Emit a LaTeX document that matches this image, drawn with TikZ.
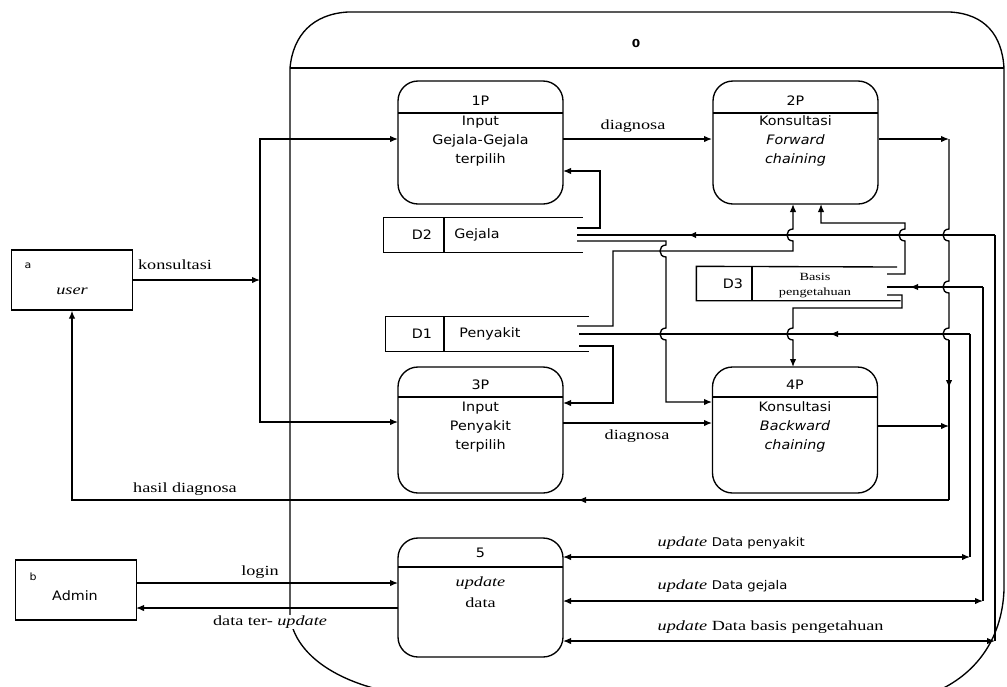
\documentclass[tikz,border=0pt]{standalone}
\usepackage{fontspec}
\setmainfont{Liberation Serif}
\newfontfamily\sff[FakeStretch=1.1]{DejaVu Sans}
\newfontfamily\srf[FakeStretch=1.3]{Liberation Serif}
\usetikzlibrary{arrows.meta,decorations.markings}
\newcommand{\hopdn}[2]{-- (#1,#2-6) .. controls (#1-8,#2-6) and (#1-8,#2+6) .. (#1,#2+6)}
\newcommand{\hopup}[2]{-- (#1,#2+6) .. controls (#1-8,#2+6) and (#1-8,#2-6) .. (#1,#2-6)}
\begin{document}
\begin{tikzpicture}[x=1pt,y=-1pt,line width=1.35pt,
  arr/.style={-{Latex[length=8pt,width=6.5pt]}},
  darr/.style={{Latex[length=8pt,width=6.5pt]}-{Latex[length=8pt,width=6.5pt]}},
  midarr/.style={postaction={decorate},decoration={markings,mark=at position #1 with {\arrow{Latex[length=8pt,width=6.5pt]}}}},
  proc/.style={draw,rounded corners=20pt,minimum width=165pt,inner sep=0pt},
  ent/.style={draw,minimum width=121pt,minimum height=60pt,inner sep=0pt},
  store/.style={minimum height=34pt,inner sep=0pt},
  st/.style={font=\sff\fontsize{13}{19}\selectfont,inner sep=0pt,align=center},
  sl/.style={font=\srf\fontsize{14}{17}\selectfont,inner sep=0pt},
]
\useasboundingbox (0,0) rectangle (1007,686);
\fill[white] (0,0) rectangle (1007,686);

% boundary 0
\draw (290,68) -- (290,615) .. controls (293,650) and (330,680) .. (390,692);
\draw (290,68) .. controls (293,35) and (313,14) .. (348,12) -- (950,12)
      .. controls (985,14) and (1002,35) .. (1004,68) -- (1004,590)
      .. controls (1002,640) and (975,675) .. (935,692);
\draw (290,68) -- (1004,68);
\node[st,font=\sff\bfseries\fontsize{11}{13}\selectfont] (zero) at (636,43) {0};

% processes
\node[proc,minimum height=123pt] (p1) at (480.5,142.5) {};
\draw (398,113) -- (563,113);
\node[st] at (480.5,101) {1P};
\node[st] at (480.5,141) {Input\\Gejala-Gejala\\terpilih};

\node[proc,minimum height=123pt] (p2) at (795.5,142.5) {};
\draw (713,113) -- (878,113);
\node[st] at (795.5,101) {2P};
\node[st] at (795.5,141) {Konsultasi\\\itshape Forward\\\itshape chaining};

\node[proc,minimum height=126pt] (p3) at (480.5,430) {};
\draw (398,397) -- (563,397);
\node[st] at (480.5,385) {3P};
\node[st] at (480.5,427) {Input\\Penyakit\\terpilih};

\node[proc,minimum height=126pt] (p4) at (795,430) {};
\draw (712.5,397) -- (877.5,397);
\node[st] at (795,385) {4P};
\node[st] at (795,427) {Konsultasi\\\itshape Backward\\\itshape chaining};

\node[proc,minimum height=119pt] (p5) at (480.5,597.5) {};
\draw (398,567) -- (563,567);
\node[st] at (480.5,553) {5};
\node[sl] at (480.5,583) {\itshape update};
\node[sl] at (480.5,603) {data};

% stores
\node[store,minimum width=198pt] (d2) at (483,235) {};
\draw (d2.north east) -- (d2.north west) -- (d2.south west) -- (d2.south east);
\draw (444,218) -- (444,252);
\node[st] at (422,235) {D2};
\node[st] at (477,235) {Gejala};

\node[store,minimum width=202pt] (d1) at (487,334) {};
\draw (d1.north east) -- (d1.north west) -- (d1.south west) -- (d1.south east);
\draw (444,317) -- (444,351);
\node[st] at (422,334) {D1};
\node[st] at (490,334) {Penyakit};

\node[store,minimum width=203pt,minimum height=33pt] (d3) at (798.5,283.5) {};
\draw (897,267) -- (d3.north west) -- (d3.south west) -- (d3.south east);
\draw (752,267) -- (752,300);
\node[st] at (733,284) {D3};
\node[font=\srf\fontsize{11}{15}\selectfont,align=center,inner sep=0pt] at (815,285.5) {Basis\\pengetahuan};

% external entities
\node[ent] (user) at (72,280) {};
\node[font=\sff\fontsize{10}{12}\selectfont] at (28,266) {a};
\node[sl] at (72,291) {\itshape user};
\node[ent] (admin) at (76,590) {};
\node[font=\sff\fontsize{10}{12}\selectfont] at (33,577) {b};
\node[st] at (75,596) {Admin};

% ports
\coordinate (j1) at (260,280);
\coordinate (p1in) at (398,139);
\coordinate (p3in) at (398,422);
\coordinate (p1out) at (563,139);
\coordinate (p2in) at (712,139);
\coordinate (p3out) at (563,423);
\coordinate (p4in) at (712,423);
\coordinate (p2out) at (879,139);
\coordinate (r1) at (949,139);
\coordinate (r2) at (949,500);
\coordinate (p4out) at (878,426);
\coordinate (r4) at (949,426);
\coordinate (d2a) at (577,228);
\coordinate (d2b) at (577,235);
\coordinate (d2c) at (577,241);
\coordinate (d1a) at (577,326);
\coordinate (d1b) at (579,334);
\coordinate (d1c) at (579,346);
\coordinate (d3a) at (887,274);
\coordinate (d3b) at (887,287);
\coordinate (d3c) at (887,295);
\coordinate (p1r) at (563,171);
\coordinate (p3r) at (563,403);
\coordinate (p4l) at (712,402);
\coordinate (p2b1) at (793,204);
\coordinate (p2b2) at (821,204);
\coordinate (p4t) at (793,367);
\coordinate (p5a) at (563,557);
\coordinate (p5b) at (563,601);
\coordinate (p5c) at (563,641);
\coordinate (c970) at (970,557);
\coordinate (c983) at (983,601);
\coordinate (c995) at (995,641);
\coordinate (adm1) at (136,583);
\coordinate (p5l1) at (398,583);
\coordinate (p5l2) at (398,608);
\coordinate (adm2) at (136,608);

% konsultasi
\draw[arr] (user.east) -- (j1);
\draw[arr] (j1) |- (p1in);
\draw[arr] (j1) |- (p3in);
\node[sl] at (175,265) {konsultasi};

% diagnosa
\draw[arr] (p1out) -- (p2in);
\node[sl] at (633,126) {diagnosa};
\draw[arr] (p3out) -- (p4in);
\node[sl] at (637,436) {diagnosa};

% outputs to user
\draw[arr] (p2out) -- (r1);
\draw (r1) \hopdn{949}{235} \hopdn{949}{287} \hopdn{949}{334} -- (949,340);
\draw[midarr=0.3] (949,340) -- (r2);
\draw[arr] (p4out) -- (r4);
\draw[arr,midarr=371pt] (r2) -| (user.south);
\node[sl] at (185,489) {hasil diagnosa};

% D2 flows
\draw[arr] (d2a) -- (600,228) -- (600,171) -- (p1r);
\draw[arr] (d2c) -- (666,241) \hopdn{666}{251} \hopdn{666}{334} -- (666,402) -- (p4l);
\draw[midarr=0.734] (995,235) -- (d2b);
\draw (995,235) -- (c995);
\draw[darr] (p5c) -- (c995);

% D1 flows
\draw[arr] (d1a) -- (613,326) -- (613,251) -- (793,251) \hopup{793}{235} -- (p2b1);
\draw[arr] (d1c) -- (613,346) -- (613,403) -- (p3r);
\draw[midarr=0.358] (970,334) -- (d1b);
\draw (970,334) -- (c970);
\draw[darr] (p5a) -- (c970);

% D3 flows
\draw[arr] (d3a) -- (905,274) \hopup{905}{235} -- (905,223) -- (821,223) -- (p2b2);
\draw[midarr=0.76] (983,287) -- (d3b);
\draw (983,287) -- (c983);
\draw[darr] (p5b) -- (c983);
\draw[arr] (d3c) -- (902,295) -- (902,308) -- (793,308) \hopdn{793}{334} -- (p4t);

% admin
\draw[arr] (adm1) -- (p5l1);
\node[sl] at (260,572) {login};
\draw[arr] (p5l2) -- (adm2);
\node[sl,fill=white,inner sep=1pt] at (270,622) {data ter- \itshape update};

% update labels
\node[anchor=west,inner sep=0pt] at (657,543) {\srf\fontsize{14}{17}\selectfont\itshape update \sff\upshape\fontsize{12}{14}\selectfont Data penyakit};
\node[anchor=west,inner sep=0pt] at (657,586) {\srf\fontsize{14}{17}\selectfont\itshape update \sff\upshape\fontsize{12}{14}\selectfont Data gejala};
\node[anchor=west,inner sep=0pt] at (657,627) {\srf\fontsize{14}{17}\selectfont\itshape update \upshape Data basis pengetahuan};
\end{tikzpicture}
\end{document}
